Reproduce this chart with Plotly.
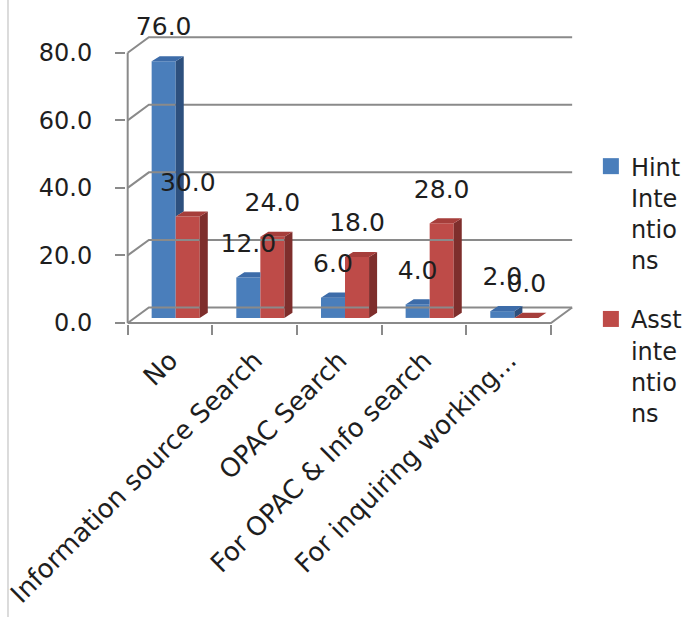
import plotly.graph_objects as go

# ---------------- data ----------------
categories = ["No", "Information source Search", "OPAC Search",
              "For OPAC & Info search", "For inquiring working..."]
hint_values = [76.0, 12.0, 6.0, 4.0, 2.0]
asst_values = [30.0, 24.0, 18.0, 28.0, 0.0]
series_names = ["Hint<br>Inte<br>ntio<br>ns", "Asst<br>inte<br>ntio<br>ns"]
y_ticks = [0, 20, 40, 60, 80]

# ---------------- styling / geometry ----------------
FONT = "DejaVu Sans"
TXT = "#1e1e1e"
FRAME = "#8a8a8a"
BLUE_FRONT, BLUE_TOP, BLUE_SIDE = "#4a7ebb", "#3d6ca9", "#2d507e"
RED_FRONT, RED_TOP, RED_SIDE = "#be4b48", "#a63e3b", "#7e2e2c"
W = 0.284          # bar width (x units)
SHIFT = 0.067      # bar pair centre offset (half depth)
BASE = 1.5         # bar base lift (perspective)
BDX, BDY = 0.095, 1.5   # bar depth
DX, DY = 0.25, 4.6      # wall depth
LABEL_OFF = 9.5

n = len(categories)
idx = list(range(n))
pos = [i + SHIFT for i in idx]

fig = go.Figure()

# ---------------- 3D frame (walls / floor / gridlines) ----------------
fx, fy = [], []
left, right = -0.5, n - 0.5
fx += [left, left, None]; fy += [0, max(y_ticks), None]
fx += [left, right, right + DX, None]; fy += [0, 0, DY, None]
for v in y_ticks:
    fx += [left, left + DX, right + DX, None]
    fy += [v, v + DY, v + DY, None]
fig.add_trace(go.Scatter(x=fx, y=fy, mode="lines", line=dict(color=FRAME, width=2),
                         hoverinfo="skip", showlegend=False))

# ---------------- bar fronts ----------------
fig.add_trace(go.Bar(x=pos, y=hint_values, base=BASE, width=W, offset=-W,
                     marker=dict(color=BLUE_FRONT, line=dict(width=0)),
                     name=series_names[0], legendgroup="a", showlegend=False))
fig.add_trace(go.Bar(x=pos, y=asst_values, base=BASE, width=W, offset=0,
                     marker=dict(color=RED_FRONT, line=dict(width=0)),
                     name=series_names[1], legendgroup="b", showlegend=False))

# ---------------- bar tops and sides ----------------
def poly_trace(xs, ys, color):
    return go.Scatter(x=xs, y=ys, mode="lines", fill="toself", fillcolor=color,
                      line=dict(width=0, color=color), hoverinfo="skip", showlegend=False)

bt_x, bt_y, bs_x, bs_y = [], [], [], []
rt_x, rt_y, rs_x, rs_y = [], [], [], []
for c, hv, av in zip(pos, hint_values, asst_values):
    x0, x1, x2 = c - W, c, c + W
    bt, rt = BASE + hv, BASE + av
    # blue top (clipped where red front hides it)
    if rt > bt:
        bt_x += [x0, x1, x1, x0 + BDX, x0, None]
        bt_y += [bt, bt, bt + BDY, bt + BDY, bt, None]
    else:
        bt_x += [x0, x1, x1 + BDX, x0 + BDX, x0, None]
        bt_y += [bt, bt, bt + BDY, bt + BDY, bt, None]
    # blue side visible only above red bar
    if bt > rt:
        bs_x += [x1, x1, x1 + BDX, x1 + BDX, x1, None]
        bs_y += [rt, bt, bt + BDY, rt + BDY, rt, None]
    # red top and side
    rt_x += [x1, x2, x2 + BDX, x1 + BDX, x1, None]
    rt_y += [rt, rt, rt + BDY, rt + BDY, rt, None]
    rs_x += [x2, x2, x2 + BDX, x2 + BDX, x2, None]
    rs_y += [BASE, rt, rt + BDY, BASE + BDY, BASE, None]

fig.add_trace(poly_trace(bs_x, bs_y, BLUE_SIDE))
fig.add_trace(poly_trace(bt_x, bt_y, BLUE_TOP))
fig.add_trace(poly_trace(rs_x, rs_y, RED_SIDE))
fig.add_trace(poly_trace(rt_x, rt_y, RED_TOP))

# ---------------- legend entries (square swatches) ----------------
for name, col, grp in [(series_names[0], BLUE_FRONT, "a"), (series_names[1], RED_FRONT, "b")]:
    fig.add_trace(go.Scatter(x=[None], y=[None], mode="markers", name=name, legendgroup=grp,
                             marker=dict(symbol="square", size=16, color=col)))

# ---------------- data labels ----------------
lab_x = [c - W / 2 for c in pos] + [c + W / 2 for c in pos]
lab_y = [v + BASE + LABEL_OFF for v in hint_values] + [v + BASE + LABEL_OFF for v in asst_values]
lab_t = [f"{v:.1f}" for v in hint_values] + [f"{v:.1f}" for v in asst_values]
fig.add_trace(go.Scatter(x=lab_x, y=lab_y, text=lab_t, mode="text",
                         textfont=dict(family=FONT, size=25, color=TXT),
                         hoverinfo="skip", showlegend=False, cliponaxis=False))

# ---------------- layout ----------------
fig.update_layout(
    width=691, height=617,
    margin=dict(l=126, r=118, t=19, b=293, autoexpand=False),
    paper_bgcolor="white", plot_bgcolor="white",
    font=dict(family=FONT, color=TXT),
    barmode="overlay",
    showlegend=True,
    legend=dict(x=1.040, y=0.59, xanchor="left", yanchor="top", valign="top",
                font=dict(family=FONT, size=24, color=TXT), tracegroupgap=25,
                bgcolor="rgba(0,0,0,0)", itemwidth=30),
    xaxis=dict(range=[-0.52, 4.76], tickmode="array", tickvals=idx, ticktext=categories,
               tickangle=-45, ticks="", showgrid=False, zeroline=False, showline=False,
               automargin=False,
               tickfont=dict(family=FONT, size=26, color=TXT), ticklabelstandoff=15,
               minor=dict(tickmode="array", tickvals=[i - 0.5 for i in range(n + 1)],
                          ticks="outside", ticklen=10, tickwidth=2, tickcolor=FRAME,
                          showgrid=False)),
    yaxis=dict(range=[-0.3, 90], tickmode="array", tickvals=y_ticks, tickformat=".1f",
               ticks="outside", ticklen=10, tickwidth=2, tickcolor=FRAME,
               showgrid=False, zeroline=False, showline=False, automargin=False,
               tickfont=dict(family=FONT, size=24, color=TXT), ticklabelstandoff=18),
    shapes=[dict(type="line", xref="paper", yref="paper", x0=-0.264, x1=-0.264,
                 y0=-0.961, y1=1.062, line=dict(color="#d0d0d0", width=1.5))],
)

fig.write_html("out.html")
